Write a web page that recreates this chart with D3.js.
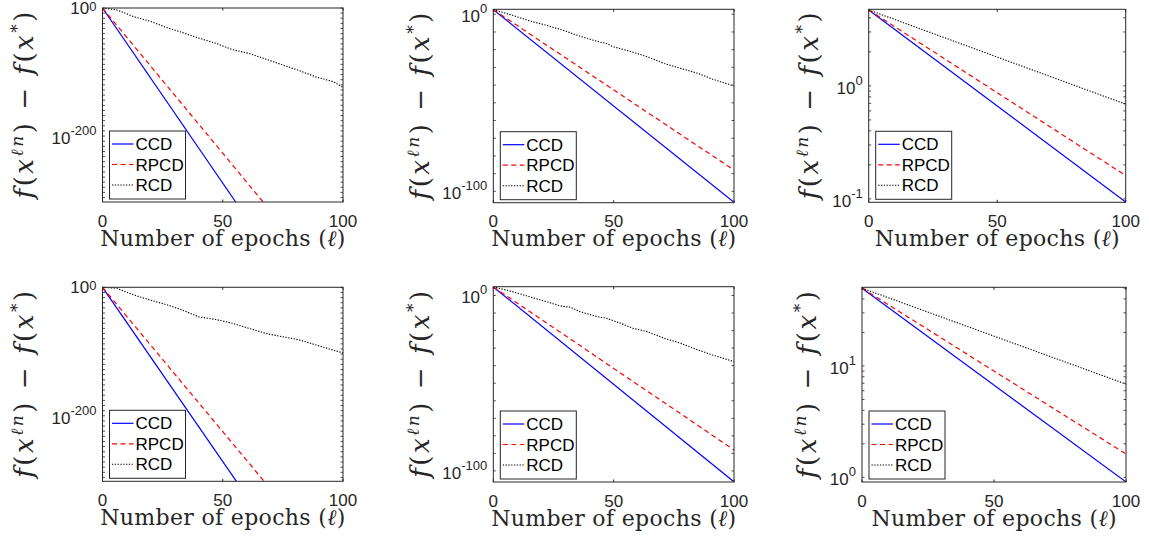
<!DOCTYPE html>
<html>
<head>
<meta charset="utf-8">
<script src="https://cdn.jsdelivr.net/npm/d3@7"></script>
<style>
    body { margin: 0; background: #ffffff; }
    .tickText { font-family: "Liberation Sans", Arial, sans-serif; font-size: 17px; fill: #262626; }
    .legendText { font-family: "Liberation Sans", Arial, sans-serif; font-size: 17px; fill: #000000; }
    .mathText { font-family: "DejaVu Serif", "Liberation Serif", serif; fill: #262626; }
</style>
</head>
<body>
<svg id="chart" width="1149" height="546"></svg>
<script>
// Shared x ticks and legend names
var xTicks = [0, 50, 100];
var seriesNames = ["CCD", "RPCD", "RCD"];

// Panel 1 (top left)
var p1CcdEpochs = [0, 55.4];
var p1CcdValues = [1, 1e-303];
var p1RpcdEpochs = [0, 66.8];
var p1RpcdValues = [1, 1e-303];
var p1RcdEpochs = [0, 6, 13, 20, 27, 33, 40, 47, 54, 61, 68, 75, 82, 89, 96, 100];
var p1RcdValues = [1, 1e-3, 3e-14, 1e-21, 1e-31, 1e-38, 1e-47, 1e-55, 1e-65, 1e-71, 1e-80, 1e-89, 1e-98, 1e-108, 1e-115, 1e-124];

// Panel 2 (top middle)
var p2CcdEpochs = [0, 100];
var p2CcdValues = [400, 6e-107];
var p2RpcdEpochs = [0, 100];
var p2RpcdValues = [400, 1e-88];
var p2RcdEpochs = [0, 8, 15, 22, 29, 33, 39, 44, 47, 50, 57, 64, 71, 78, 85, 91, 100];
var p2RcdValues = [400, 0.25, 2e-4, 6e-7, 1e-9, 1e-11, 2e-14, 2.5e-16, 3e-17, 4e-19, 1e-21, 1e-24, 1.6e-28, 2.5e-31, 4e-34, 2.5e-37, 3e-41];

// Panel 3 (top right)
var p3CcdEpochs = [0, 100];
var p3CcdValues = [4.7, 0.094];
var p3RpcdEpochs = [0, 100];
var p3RpcdValues = [4.7, 0.161];
var p3RcdEpochs = [0, 100];
var p3RcdValues = [4.7, 0.689];

// Panel 4 (bottom left)
var p4CcdEpochs = [0, 55.7];
var p4CcdValues = [1, 1e-302];
var p4RpcdEpochs = [0, 67.2];
var p4RpcdValues = [1, 1e-302];
var p4RcdEpochs = [0, 6, 13, 20, 27, 33, 40, 47, 54, 61, 68, 75, 82, 89, 96, 100];
var p4RcdValues = [1, 3e-2, 1e-12, 1e-20, 3e-28, 1e-35, 1e-46, 1e-50, 1e-56, 1e-64, 1e-72, 1e-77, 1e-82, 1e-90, 1e-98, 1e-102];

// Panel 5 (bottom middle)
var p5CcdEpochs = [0, 100];
var p5CcdValues = [8e4, 6e-107];
var p5RpcdEpochs = [0, 100];
var p5RpcdValues = [8e4, 1e-88];
var p5RcdEpochs = [0, 8, 15, 22, 28, 32, 36, 43, 47, 53, 58, 64, 71, 78, 85, 91, 100];
var p5RcdValues = [8e4, 160, 0.2, 3e-4, 1e-6, 2e-7, 6e-10, 1e-12, 1e-13, 1.3e-16, 2e-19, 2.5e-21, 4e-25, 5e-28, 1e-31, 1.3e-34, 2e-38];

// Panel 6 (bottom right)
var p6CcdEpochs = [0, 100];
var p6CcdValues = [50, 0.91];
var p6RpcdEpochs = [0, 100];
var p6RpcdValues = [50, 1.62];
var p6RcdEpochs = [0, 100];
var p6RcdValues = [50, 6.88];

// Labelled y ticks (as powers of ten) per panel
var p1YTickExps = [0, -200];
var p2YTickExps = [0, -100];
var p3YTickExps = [0, -1];
var p4YTickExps = [0, -200];
var p5YTickExps = [0, -100];
var p6YTickExps = [1, 0];

var seriesStyles = [
    { color: "#0000ff", dash: null, width: 1.2 },
    { color: "#ff0000", dash: "5,3.5", width: 1.2 },
    { color: "#000000", dash: "1.3,1.5", width: 1.1 }
];

function zipSeries(xs, ys) {
    return xs.map((x, i) => [x, ys[i]]);
}

var panels = [
    { left: 102.5, top: 8, right: 343, bottom: 202, yDomain: [1e-303, 1], tickExps: p1YTickExps, minorStep: 8, yLabelX: 25,
      series: [zipSeries(p1CcdEpochs, p1CcdValues), zipSeries(p1RpcdEpochs, p1RpcdValues), zipSeries(p1RcdEpochs, p1RcdValues)] },
    { left: 493.3, top: 9.3, right: 734, bottom: 202.7, yDomain: [4e-107, 630], tickExps: p2YTickExps, minorStep: 10, yLabelX: 421,
      series: [zipSeries(p2CcdEpochs, p2CcdValues), zipSeries(p2RpcdEpochs, p2RpcdValues), zipSeries(p2RcdEpochs, p2RcdValues)] },
    { left: 868.7, top: 9.3, right: 1125.7, bottom: 202.3, yDomain: [0.0933, 4.76], tickExps: p3YTickExps, minorStep: 0, yLabelX: 810,
      series: [zipSeries(p3CcdEpochs, p3CcdValues), zipSeries(p3RpcdEpochs, p3RpcdValues), zipSeries(p3RcdEpochs, p3RcdValues)] },
    { left: 102.5, top: 287.3, right: 343, bottom: 481.3, yDomain: [1e-302, 1], tickExps: p4YTickExps, minorStep: 8, yLabelX: 25,
      series: [zipSeries(p4CcdEpochs, p4CcdValues), zipSeries(p4RpcdEpochs, p4RpcdValues), zipSeries(p4RcdEpochs, p4RcdValues)] },
    { left: 493.3, top: 286.7, right: 734, bottom: 482, yDomain: [5e-107, 1e5], tickExps: p5YTickExps, minorStep: 10, yLabelX: 421,
      series: [zipSeries(p5CcdEpochs, p5CcdValues), zipSeries(p5RpcdEpochs, p5RpcdValues), zipSeries(p5RcdEpochs, p5RcdValues)] },
    { left: 862, top: 287.3, right: 1126, bottom: 482, yDomain: [0.908, 50.9], tickExps: p6YTickExps, minorStep: 0, yLabelX: 808,
      series: [zipSeries(p6CcdEpochs, p6CcdValues), zipSeries(p6RpcdEpochs, p6RpcdValues), zipSeries(p6RcdEpochs, p6RcdValues)] }
];

var svg = d3.select("#chart");
var axisColor = "#262626";
var tickLen = 2.5;

// minor ticks: every few decades for huge ranges, 2..9 inside a decade otherwise
function minorTicks(p) {
    var lo = Math.log10(p.yDomain[0]), hi = Math.log10(p.yDomain[1]);
    var out = [];
    if (p.minorStep) {
        for (var e = 0; e >= lo; e -= p.minorStep) out.push(e);
        for (var e2 = p.minorStep; e2 <= hi; e2 += p.minorStep) out.push(e2);
        return out.filter(e => p.tickExps.indexOf(e) < 0).map(e => Math.pow(10, e));
    }
    for (var k = Math.floor(lo); k <= Math.ceil(hi); k++) {
        for (var m = 2; m <= 9; m++) {
            var v = m * Math.pow(10, k);
            if (v >= p.yDomain[0] && v <= p.yDomain[1]) out.push(v);
        }
    }
    return out;
}

panels.forEach(function(p, pi) {
    var x = d3.scaleLinear().domain([0, 100]).range([p.left, p.right]);
    var y = d3.scaleLog().domain(p.yDomain).range([p.bottom, p.top]);
    var g = svg.append("g");

    // clip area for lines
    var clipId = "clip" + pi;
    svg.append("clipPath").attr("id", clipId)
        .append("rect")
        .attr("x", p.left).attr("y", p.top)
        .attr("width", p.right - p.left).attr("height", p.bottom - p.top);

    var line = d3.line().x(d => x(d[0])).y(d => y(d[1]));

    g.append("g").attr("clip-path", `url(#${clipId})`)
        .selectAll("path")
        .data(p.series)
        .enter()
        .append("path")
        .attr("d", line)
        .attr("fill", "none")
        .attr("stroke", (d, i) => seriesStyles[i].color)
        .attr("stroke-width", (d, i) => seriesStyles[i].width)
        .attr("stroke-dasharray", (d, i) => seriesStyles[i].dash);

    // x ticks (bottom and top, inward)
    xTicks.forEach(function(t) {
        g.append("line").attr("x1", x(t)).attr("x2", x(t)).attr("y1", p.bottom).attr("y2", p.bottom - tickLen)
            .attr("stroke", axisColor);
        g.append("line").attr("x1", x(t)).attr("x2", x(t)).attr("y1", p.top).attr("y2", p.top + tickLen)
            .attr("stroke", axisColor);
        g.append("text").attr("class", "tickText")
            .attr("x", x(t)).attr("y", p.bottom + 24.5)
            .attr("text-anchor", "middle")
            .text(t);
    });

    // y ticks, major + minor, both sides
    var yTickVals = p.tickExps.map(e => Math.pow(10, e)).concat(minorTicks(p));
    yTickVals.forEach(function(v) {
        var yy = y(v);
        g.append("line").attr("x1", p.left).attr("x2", p.left + tickLen).attr("y1", yy).attr("y2", yy)
            .attr("stroke", axisColor).attr("stroke-width", 0.8);
        g.append("line").attr("x1", p.right).attr("x2", p.right - tickLen).attr("y1", yy).attr("y2", yy)
            .attr("stroke", axisColor).attr("stroke-width", 0.8);
    });

    // y tick labels 10^e (a label sitting on the top edge is nudged up like in the original)
    p.tickExps.forEach(function(e) {
        var yy = y(Math.pow(10, e));
        var atTop = Math.abs(yy - p.top) < 1.5;
        var t = g.append("text").attr("class", "tickText")
            .attr("x", p.left - 6)
            .attr("y", atTop ? yy + 5.5 : yy + 8)
            .attr("text-anchor", "end");
        t.append("tspan").text("10");
        t.append("tspan").attr("dy", atTop ? -3 : -9).attr("font-size", "13px").text(e);
    });

    // axes box
    g.append("rect")
        .attr("x", p.left).attr("y", p.top)
        .attr("width", p.right - p.left).attr("height", p.bottom - p.top)
        .attr("fill", "none").attr("stroke", axisColor).attr("stroke-width", 1);

    // x axis title
    var xt = g.append("text").attr("class", "mathText")
        .attr("x", (p.left + p.right) / 2)
        .attr("y", p.bottom + 43.5)
        .attr("text-anchor", "middle")
        .attr("font-size", "22px")
        .attr("textLength", 245)
        .attr("lengthAdjust", "spacing");
    xt.append("tspan").text("Number of epochs (");
    xt.append("tspan").attr("font-style", "italic").text("\u2113");
    xt.append("tspan").text(")");

    // y axis title
    var yt = g.append("text").attr("class", "mathText")
        .attr("transform", `translate(${p.yLabelX}, ${(p.top + p.bottom) / 2}) rotate(-90)`)
        .attr("x", 0).attr("y", 8)
        .attr("text-anchor", "middle")
        .attr("font-size", "26px")
        .attr("textLength", 187)
        .attr("lengthAdjust", "spacing");
    yt.append("tspan").attr("font-style", "italic").text("f");
    yt.append("tspan").text("(");
    yt.append("tspan").attr("font-style", "italic").text("x");
    yt.append("tspan").attr("dy", -10).attr("font-size", "17px").attr("font-style", "italic").text("\u2113n");
    yt.append("tspan").attr("dy", 10).text(")");
    yt.append("tspan").text(" \u2212 ");
    yt.append("tspan").attr("font-style", "italic").text("f");
    yt.append("tspan").text("(");
    yt.append("tspan").attr("font-style", "italic").text("x");
    yt.append("tspan").attr("dy", -10).attr("font-size", "17px").text("*");
    yt.append("tspan").attr("dy", 10).text(")");

    // legend
    var lg = g.append("g").attr("transform", `translate(${p.left + 7}, ${p.bottom - 71})`);
    lg.append("rect")
        .attr("width", 76).attr("height", 68)
        .attr("fill", "#ffffff").attr("stroke", axisColor).attr("stroke-width", 1);
    seriesNames.forEach(function(name, i) {
        var ly = 13 + i * 20.5;
        lg.append("line")
            .attr("x1", 2.5).attr("x2", 24).attr("y1", ly).attr("y2", ly)
            .attr("stroke", seriesStyles[i].color)
            .attr("stroke-width", seriesStyles[i].width)
            .attr("stroke-dasharray", seriesStyles[i].dash);
        lg.append("text").attr("class", "legendText")
            .attr("x", 26).attr("y", ly + 6)
            .text(name);
    });
});
</script>
</body>
</html>
